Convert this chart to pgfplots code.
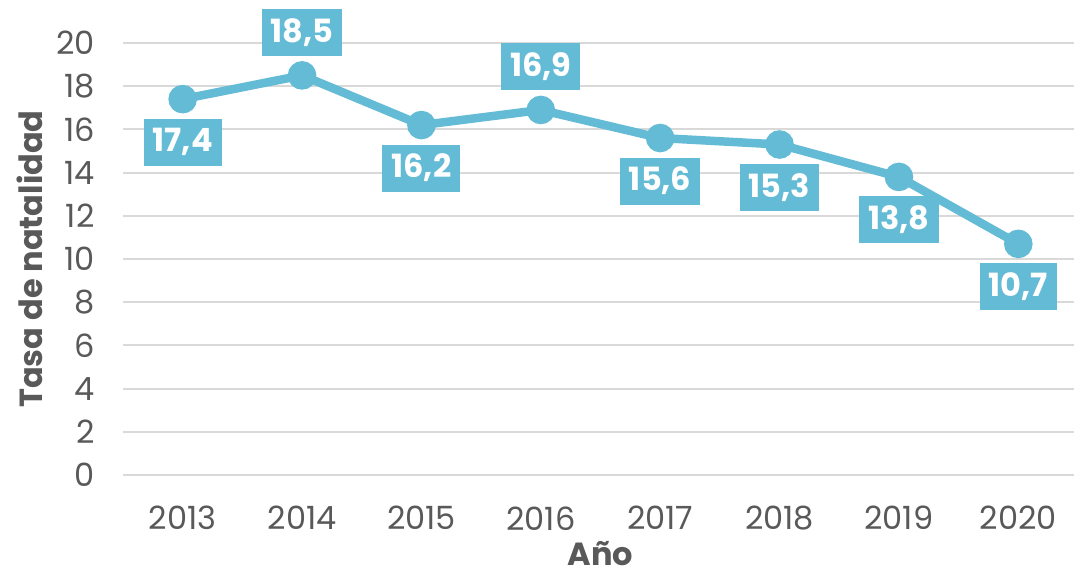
\documentclass[border=0pt]{standalone}
\usepackage{fontspec}
\setmainfont{Poppins}
\usepackage{pgfplots}
\pgfplotsset{compat=1.18}
\definecolor{lineblue}{RGB}{100,187,213}
\definecolor{gridgray}{RGB}{217,217,217}
\definecolor{txt}{RGB}{89,89,89}
\pgfplotstableread{
x y off
2013 17.4 -1
2014 18.5 1
2015 16.2 -1
2016 16.9 1
2017 15.6 -1
2018 15.3 -1
2019 13.8 -1
2020 10.7 -1
}\datatable
\begin{document}
\begin{tikzpicture}
\path[use as bounding box] (-61.5pt,-50.5pt) rectangle (475.5pt,237.5pt);
\begin{axis}[
 at={(0,0)}, anchor=south west,
 scale only axis, width=477.5pt, height=216pt,
 xmin=2012.5, xmax=2020.5, ymin=0, ymax=20,
 xtick={2013,2014,2015,2016,2017,2018,2019,2020}, ytick={0,2,...,20},
 xticklabel style={/pgf/number format/1000 sep={}, anchor=north, inner sep=0pt, yshift=-15.5pt},
 yticklabel style={anchor=east, inner sep=0pt, xshift=-14pt},
 major tick length=0pt,
 axis line style={draw=none},
 ymajorgrids, grid style={gridgray, line width=1pt},
 tick label style={font=\fontsize{16}{19}\selectfont, text=txt},
 /pgf/number format/assume math mode=true,
 label style={font=\fontsize{16}{19}\selectfont\bfseries, text=txt, inner sep=0pt},
 xlabel={Año}, ylabel={Tasa de natalidad},
 xlabel style={at={(axis description cs:0.5,-0.182)}, anchor=center},
 ylabel style={at={(axis description cs:-0.0974,0.5)}, anchor=center},
 clip=false,
]
\addplot[lineblue, line width=4.25pt, mark=*, mark size=5pt,
 mark options={solid, fill=lineblue, draw=none},
 point meta=explicit,
 visualization depends on={\thisrow{off}\as\off},
 nodes near coords={\pgfmathprintnumber[fixed,fixed zerofill,precision=1,use comma]{\pgfplotspointmeta}},
 every node near coord/.append style={anchor=center, yshift={\off*21.5pt},
   fill=lineblue, text=white, font=\fontsize{16}{19}\selectfont\bfseries,
   inner xsep=4.5pt, inner ysep=0pt, minimum height=23.5pt},
] table[x=x, y=y, meta=y] {\datatable};
\end{axis}
\end{tikzpicture}
\end{document}
